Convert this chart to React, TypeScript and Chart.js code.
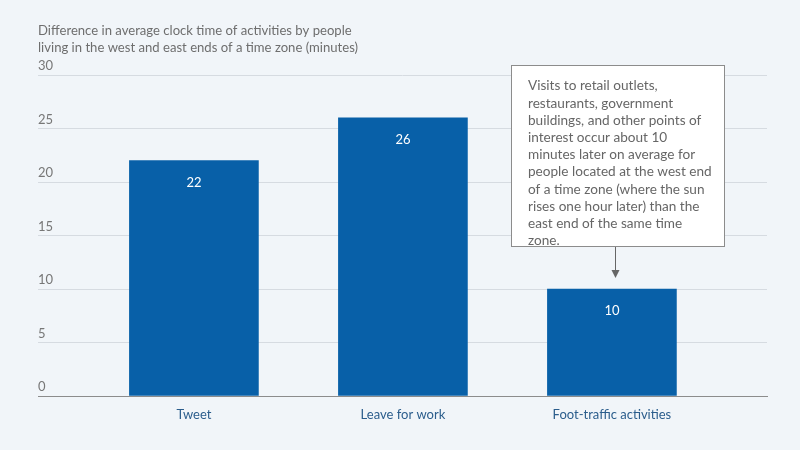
import { useEffect, useRef } from "react";
import { Chart, registerables } from "chart.js";

Chart.register(...registerables);

const categories = ["Tweet", "Leave for work", "Foot-traffic activities"];
const values = [22, 26, 10];
const yMin = 0;
const yMax = 30;
const yStep = 5;
const titleLines = [
  "Difference in average clock time of activities by people",
  "living in the west and east ends of a time zone (minutes)",
];
const noteLines = [
  "Visits to retail outlets,",
  "restaurants, government",
  "buildings, and other points of",
  "interest occur about 10",
  "minutes later on average for",
  "people located at the west end",
  "of a time zone (where the sun",
  "rises one hour later) than the",
  "east end of the same time",
  "zone.",
];
const noteTargetIndex = 2;

const FONT = "Lato, 'Open Sans', sans-serif";
const BG = "#f1f5f9";
const BAR = "#0860a8";

const valueLabelPlugin = {
  id: "valueLabels",
  afterDatasetsDraw(chart: any) {
    const ctx = chart.ctx;
    const meta = chart.getDatasetMeta(0);
    ctx.save();
    ctx.fillStyle = "#ffffff";
    ctx.font = `13px ${FONT}`;
    ctx.textAlign = "center";
    ctx.textBaseline = "middle";
    meta.data.forEach((el: any, i: number) => {
      ctx.fillText(String(values[i]), el.x, el.y + 22);
    });
    ctx.restore();
  },
};

const notePlugin = {
  id: "note",
  afterDraw(chart: any) {
    const ctx = chart.ctx;
    const left = 511;
    const top = 65;
    const w = 214;
    const h = 182;
    ctx.save();
    ctx.fillStyle = "#ffffff";
    ctx.fillRect(left, top, w, h);
    ctx.strokeStyle = "#8c8c8c";
    ctx.lineWidth = 1;
    ctx.strokeRect(left + 0.5, top + 0.5, w - 1, h - 1);
    ctx.fillStyle = "#666666";
    ctx.font = `13.6px ${FONT}`;
    ctx.textAlign = "left";
    ctx.textBaseline = "middle";
    noteLines.forEach((line, i) => {
      ctx.fillText(line, left + 17, top + 21 + i * 17.2);
    });
    const el = chart.getDatasetMeta(0).data[noteTargetIndex];
    const ax = Math.round(el.x + 3) + 0.5;
    const yEnd = el.y - 11;
    ctx.strokeStyle = "#666666";
    ctx.beginPath();
    ctx.moveTo(ax, top + h);
    ctx.lineTo(ax, yEnd - 6);
    ctx.stroke();
    ctx.fillStyle = "#666666";
    ctx.beginPath();
    ctx.moveTo(ax - 4, yEnd - 8);
    ctx.lineTo(ax + 4, yEnd - 8);
    ctx.lineTo(ax, yEnd);
    ctx.closePath();
    ctx.fill();
    ctx.restore();
  },
};

export default function App() {
  const ref = useRef<HTMLCanvasElement>(null);
  useEffect(() => {
    document.body.style.margin = "0";
    document.body.style.background = BG;
    const chart = new Chart(ref.current!, {
      type: "bar",
      data: {
        datasets: [
          {
            data: categories.map((_, i) => ({ x: i, y: values[i] })),
            backgroundColor: BAR,
            borderWidth: 0,
            barThickness: 129,
          },
        ],
      },
      options: {
        animation: false,
        responsive: true,
        maintainAspectRatio: false,
        layout: { padding: { left: 38, right: 33, top: 0, bottom: 0 } },
        plugins: {
          legend: { display: false },
          tooltip: { enabled: false },
          title: {
            display: true,
            text: titleLines,
            align: "start",
            color: "#6e6e6e",
            font: { family: FONT, size: 13.1, weight: "normal", lineHeight: 17 / 13.1 },
            padding: { top: 22, bottom: 19 },
          },
        },
        scales: {
          x: {
            type: "linear",
            offset: false,
            min: -0.746,
            max: 2.742,
            grid: { display: false, drawTicks: false, offset: false },
            border: { display: true, color: "#8c8c8c", width: 1 },
            afterBuildTicks: (s: any) => {
              s.ticks = categories.map((_, i) => ({ value: i }));
            },
            afterFit: (s: any) => {
              s.height = 54;
            },
            ticks: {
              autoSkip: false,
              maxRotation: 0,
              padding: 11,
              color: "#2b5d8c",
              font: { family: FONT, size: 13 },
              callback: (v: any) => categories[v] ?? "",
            },
          },
          y: {
            min: yMin,
            max: yMax,
            grid: { color: "#d6dbe1", drawTicks: false, lineWidth: 1 },
            border: { display: false },
            afterFit: (s: any) => {
              s.width = 0;
            },
            ticks: {
              stepSize: yStep,
              mirror: true,
              padding: 0,
              labelOffset: -9,
              color: "#777777",
              font: { family: FONT, size: 13 },
            },
          },
        },
      },
      plugins: [valueLabelPlugin, notePlugin],
    });
    return () => chart.destroy();
  }, []);
  return (
    <div style={{ width: 800, height: 450, position: "relative", background: BG }}>
      <canvas ref={ref} />
    </div>
  );
}
